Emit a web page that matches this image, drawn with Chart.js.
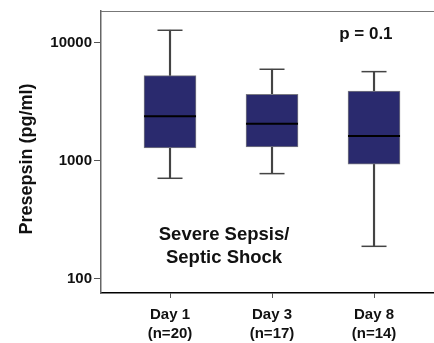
<!DOCTYPE html>
<html>
<head>
<meta charset="utf-8">
<script src="https://cdn.jsdelivr.net/npm/chart.js@4.4.1/dist/chart.umd.min.js"></script>
<style>
    html, body { margin: 0; padding: 0; background: #fff; }
    #wrap { width: 434px; height: 343px; }
</style>
</head>
<body>
<div id="wrap"><canvas id="chart"></canvas></div>
<script>
// box plot data (pg/ml)
const days = [['Day 1', '(n=20)'], ['Day 3', '(n=17)'], ['Day 8', '(n=14)']];
const dayPos = [1, 2, 3];
const whiskerLow = [713, 781, 189];
const q1 = [1289, 1315, 937];
const median = [2393, 2070, 1629];
const q3 = [5284, 3675, 3919];
const whiskerHigh = [12810, 5985, 5714];
const yTicks = [100, 1000, 10000];

const navy = '#2a2a6e';
const whiskerGray = '#444444';
const font = "'Liberation Sans', Arial, sans-serif";

const boxes = dayPos.map((x, i) => ({ x: x, y: [q1[i], q3[i]] }));
const lowStems = dayPos.map((x, i) => ({ x: x, y: [whiskerLow[i], q1[i]] }));
const highStems = dayPos.map((x, i) => ({ x: x, y: [q3[i], whiskerHigh[i]] }));
const caps = dayPos.flatMap((x, i) => [{ x: x, y: whiskerLow[i] }, { x: x, y: whiskerHigh[i] }]);
const medians = dayPos.map((x, i) => ({ x: x, y: median[i] }));

// top frame line, axis title and text labels
const extras = {
    id: 'extras',
    afterDraw(chart) {
        const { ctx, chartArea, scales } = chart;
        ctx.save();
        ctx.strokeStyle = '#777';
        ctx.lineWidth = 1;
        ctx.beginPath();
        ctx.moveTo(chartArea.left, chartArea.top + 0.5);
        ctx.lineTo(chartArea.right, chartArea.top + 0.5);
        ctx.stroke();

        ctx.fillStyle = '#111';
        ctx.textAlign = 'center';
        ctx.textBaseline = 'middle';

        ctx.save();
        ctx.translate(27, (chartArea.top + chartArea.bottom) / 2 + 7);
        ctx.rotate(-Math.PI / 2);
        ctx.font = 'bold 18px ' + font;
        ctx.fillText('Presepsin (pg/ml)', 0, 0);
        ctx.restore();

        ctx.font = 'bold 17px ' + font;
        ctx.fillText('p = 0.1', scales.x.getPixelForValue(2.92), scales.y.getPixelForValue(11900));
        ctx.font = 'bold 18.5px ' + font;
        const cx = scales.x.getPixelForValue(1.53);
        ctx.fillText('Severe Sepsis/', cx, scales.y.getPixelForValue(236));
        ctx.fillText('Septic Shock', cx, scales.y.getPixelForValue(151));
        ctx.restore();
    }
};

new Chart(document.getElementById('chart'), {
    type: 'bar',
    data: {
        datasets: [
            {
                data: medians, type: 'scatter', order: 0,
                pointStyle: 'line', pointRadius: 26, borderWidth: 2,
                borderColor: '#000', pointHoverRadius: 26
            },
            {
                data: caps, type: 'scatter', order: 1,
                pointStyle: 'line', pointRadius: 12.5, borderWidth: 1.5,
                borderColor: whiskerGray, pointHoverRadius: 12.5
            },
            {
                data: boxes, order: 2, grouped: false, barThickness: 52,
                backgroundColor: navy, borderColor: '#7a7a82', borderWidth: 1,
                borderSkipped: false
            },
            {
                data: lowStems, order: 3, grouped: false, barThickness: 1.5,
                backgroundColor: whiskerGray, borderWidth: 0
            },
            {
                data: highStems, order: 3, grouped: false, barThickness: 1.5,
                backgroundColor: whiskerGray, borderWidth: 0
            }
        ]
    },
    options: {
        responsive: true,
        maintainAspectRatio: false,
        animation: false,
        events: [],
        layout: { autoPadding: false, padding: { top: 11, right: 0, left: 0, bottom: 0 } },
        plugins: {
            legend: { display: false },
            tooltip: { enabled: false }
        },
        scales: {
            x: {
                type: 'linear',
                offset: false,
                min: 0.3235,
                max: 3.588,
                afterBuildTicks: (scale) => { scale.ticks = dayPos.map(v => ({ value: v })); },
                afterFit: (scale) => { scale.height = 50; },
                grid: { offset: false, drawOnChartArea: false, drawTicks: true, tickLength: 5, color: '#555' },
                border: { color: '#000', width: 1.5 },
                ticks: {
                    color: '#111',
                    padding: 7,
                    maxRotation: 0,
                    font: { family: font, size: 15, weight: 'bold', lineHeight: 1.3 },
                    callback: (v) => days[dayPos.indexOf(v)]
                }
            },
            y: {
                type: 'logarithmic',
                min: 76,
                max: 18660,
                afterBuildTicks: (scale) => { scale.ticks = yTicks.map(v => ({ value: v })); },
                afterFit: (scale) => { scale.width = 101; },
                grid: { drawOnChartArea: false, drawTicks: true, tickLength: 7, color: '#555' },
                border: { color: '#666', width: 1.5 },
                ticks: {
                    color: '#111',
                    padding: 2,
                    font: { family: font, size: 15, weight: 'bold' },
                    callback: (v) => String(v)
                }
            }
        }
    },
    plugins: [extras]
});
</script>
</body>
</html>
